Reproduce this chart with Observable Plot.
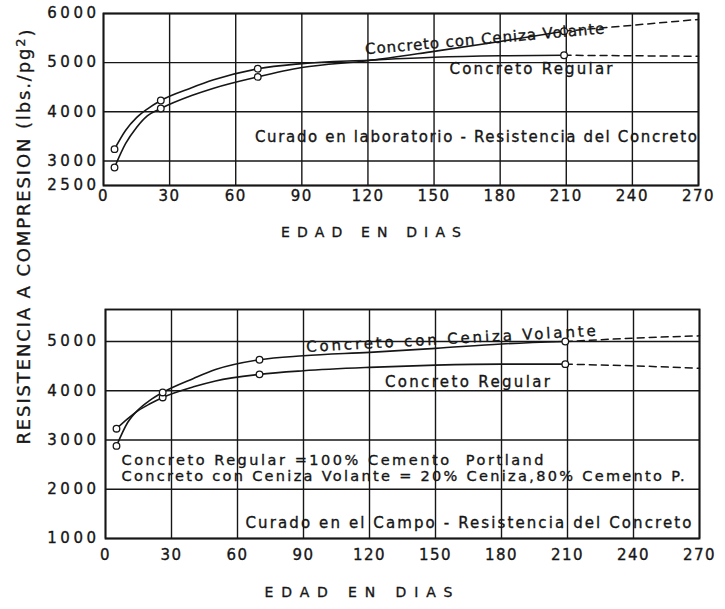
<!DOCTYPE html>
<html><head><meta charset="utf-8">
<script src="https://cdn.jsdelivr.net/npm/d3@7"></script>
<script src="https://cdn.jsdelivr.net/npm/@observablehq/plot@0.6"></script>
<style>
html,body{margin:0;padding:0;background:#fff;}
#wrap{position:relative;width:725px;height:609px;overflow:hidden;background:#fff;}
#top{position:absolute;left:0;top:0;}
#bot{position:absolute;left:0;top:250px;}
#ov{position:absolute;left:0;top:0;pointer-events:none;}
</style></head>
<body><div id="wrap"><div id="top"></div><div id="bot"></div><svg id="ov" width="725" height="609"></svg></div>
<script>
// ---------- data ----------
const xTicks = [0, 30, 60, 90, 120, 150, 180, 210, 240, 270];
const xTickLabels = ["0", "30", "60", "90", "120", "150", "180", "210", "240", "270"];
const yTicksLab = [2500, 3000, 4000, 5000, 6000];
const yTickLabelsLab = ["2500", "3000", "4000", "5000", "6000"];
const yTicksField = [1000, 2000, 3000, 4000, 5000];
const yTickLabelsField = ["1000", "2000", "3000", "4000", "5000"];

// test ages (open circles)
const testDays = [5, 26, 70, 209];
const labRegular = [3240, 4230, 4876, 5150];
const labFlyAsh = [2866, 4067, 4710, 5640];
const fieldRegular = [3230, 3864, 4333, 4540];
const fieldFlyAsh = [2880, 3966, 4630, 5000];

// points
const curveDays = [5, 10, 15, 20, 26, 40, 50, 70, 90, 120, 150, 180, 209];
const labRegularCurve = [3240, 3620, 3880, 4060, 4230, 4490, 4650, 4876, 4980, 5050, 5110, 5140, 5150];
const labFlyAshCurve = [2866, 3350, 3680, 3920, 4067, 4330, 4480, 4710, 4900, 5040, 5230, 5430, 5640];
const fieldRegularCurve = [3230, 3430, 3600, 3730, 3864, 4080, 4200, 4333, 4407, 4475, 4520, 4540, 4540];
const fieldFlyAshCurve = [2880, 3350, 3620, 3800, 3966, 4250, 4430, 4630, 4711, 4780, 4860, 4950, 5000];

// dashed extrapolations
const extDays = [209, 240, 270];
const labRegularExt = [5150, 5140, 5130];
const labFlyAshExt = [5640, 5760, 5880];
const fieldRegularExt = [4540, 4508, 4455];
const fieldFlyAshExt = [5000, 5070, 5116];

// annotations (text, day, value, rotation)
const labNotes = ["Concreto con Ceniza Volante", "Concreto Regular", "Curado en laboratorio - Resistencia del Concreto"];
const labNoteX = [173, 194, 169];
const labNoteY = [5480, 4870, 3477];
const labNoteRot = [-5, 0, 0];
const fieldNotes = ["Concreto con Ceniza Volante", "Concreto Regular", "Concreto Regular =100% Cemento  Portland", "Concreto con Ceniza Volante = 20% Ceniza,80% Cemento P.", "Curado en el Campo - Resistencia del Concreto"];
const fieldNoteX = [157, 164.5, 7.3, 7.3, 165];
const fieldNoteY = [5051, 4177, 2591, 2266, 1311];
const fieldNoteRot = [-3.2, 0, 0, 0, 0];
const fieldNoteAnchor = ["middle", "middle", "start", "start", "middle"];

const xTitle = "EDAD EN DIAS";
const yTitleMain = "RESISTENCIA  A  COMPRESION  (lbs./pg";
const yTitleSup = "2";
const yTitleEnd = ")";

// ---------- helpers ----------
const ink = "#161616";
const FONT = "'DejaVu Sans', sans-serif";
const rows = (days, vals, series) => days.map((d, i) => ({day: d, val: vals[i], series}));
const notes = (t, x, y, r, a) => t.map((s, i) => ({text: s, x: x[i], y: y[i], rot: r[i], anchor: a ? a[i] : "middle"}));

function finish(svg, widths) {
  const s = d3.select(svg);
  s.selectAll('g[aria-label="y-axis tick label"] text').style("letter-spacing", "3.5px");
  s.selectAll('g[aria-label="x-axis tick label"] text').style("letter-spacing", "1.5px");
  s.selectAll("text").each(function () {
    const t = this.textContent;
    if (widths[t]) { this.setAttribute("textLength", widths[t]); this.setAttribute("lengthAdjust", "spacing"); }
  });
  s.selectAll("text").attr("stroke", ink).attr("stroke-width", 0.35).attr("paint-order", "fill");
  return svg;
}

const labCurves = [...rows(curveDays, labRegularCurve, "reg"), ...rows(curveDays, labFlyAshCurve, "fa")];
const labExts = [...rows(extDays, labRegularExt, "reg"), ...rows(extDays, labFlyAshExt, "fa")];
const labObs = [...rows(testDays, labRegular, "reg"), ...rows(testDays, labFlyAsh, "fa")];
const fieldCurves = [...rows(curveDays, fieldRegularCurve, "reg"), ...rows(curveDays, fieldFlyAshCurve, "fa")];
const fieldExts = [...rows(extDays, fieldRegularExt, "reg"), ...rows(extDays, fieldFlyAshExt, "fa")];
const fieldObs = [...rows(testDays, fieldRegular, "reg"), ...rows(testDays, fieldFlyAsh, "fa")];

function chart(opts) {
  const {ann} = opts;
  const mid = ann.filter(d => d.anchor === "middle");
  const start = ann.filter(d => d.anchor === "start");
  const p = Plot.plot({
    width: 725, height: opts.height,
    marginTop: opts.mt, marginBottom: opts.mb, marginLeft: opts.ml, marginRight: opts.mr,
    x: {domain: [0, 270]},
    y: {domain: opts.yDomain},
    style: {fontFamily: FONT, fontSize: "15px", color: ink, background: "white"},
    marks: [
      Plot.gridX(xTicks, {stroke: ink, strokeOpacity: 1, strokeWidth: 1.4}),
      Plot.gridY(opts.yTicks, {stroke: ink, strokeOpacity: 1, strokeWidth: 1.4}),
      Plot.frame({stroke: ink, strokeWidth: 1.9}),
      Plot.axisX(xTicks, {tickSize: 0, tickPadding: opts.xpad, fontSize: 15, tickFormat: d => xTickLabels[xTicks.indexOf(d)]}),
      Plot.axisY(opts.yTicks, {tickSize: 0, tickPadding: opts.ypad, fontSize: 15, tickFormat: d => opts.yLabels[opts.yTicks.indexOf(d)]}),
      Plot.text([xTitle], {text: d => d, frameAnchor: "bottom", dx: opts.titleDx, dy: opts.titleDy, fontSize: 14, fill: ink}),
      Plot.line(opts.curves, {x: "day", y: "val", z: "series", curve: "monotone-x", stroke: ink, strokeWidth: 1.6}),
      Plot.line(opts.exts, {x: "day", y: "val", z: "series", stroke: ink, strokeWidth: 1.5, strokeDasharray: "7,5"}),
      Plot.dot(opts.obs, {x: "day", y: "val", r: 3.3, fill: "white", stroke: ink, strokeWidth: 1.3}),
      Plot.text(mid, {x: "x", y: "y", text: "text", rotate: "rot", textAnchor: "middle", fontSize: 15, fill: ink}),
      Plot.text(start, {x: "x", y: "y", text: "text", rotate: "rot", textAnchor: "start", fontSize: 14.5, fill: ink})
    ]
  });
  return finish(p, opts.widths);
}

const topSvg = chart({
  height: 250, mt: 13, mb: 65, ml: 103, mr: 27,
  yDomain: [2500, 6000], yTicks: yTicksLab, yLabels: yTickLabelsLab,
  curves: labCurves, exts: labExts, obs: labObs,
  ann: notes(labNotes, labNoteX, labNoteY, labNoteRot),
  ypad: 4, xpad: 5, titleDx: -30, titleDy: 51,
  widths: {"Concreto con Ceniza Volante": 240, "Concreto Regular": 163,
           "Curado en laboratorio - Resistencia del Concreto": 442, [xTitle]: 180}
});
document.getElementById("top").appendChild(topSvg);

const botSvg = chart({
  height: 359, mt: 59, mb: 71, ml: 105, mr: 26,
  yDomain: [1000, 5650], yTicks: yTicksField, yLabels: yTickLabelsField,
  curves: fieldCurves, exts: fieldExts, obs: fieldObs,
  ann: notes(fieldNotes, fieldNoteX, fieldNoteY, fieldNoteRot, fieldNoteAnchor),
  ypad: 6, xpad: 11, titleDx: -44, titleDy: 58,
  widths: {"Concreto con Ceniza Volante": 290, "Concreto Regular": 165,
           "Concreto Regular =100% Cemento  Portland": 422,
           "Concreto con Ceniza Volante = 20% Ceniza,80% Cemento P.": 563,
           "Curado en el Campo - Resistencia del Concreto": 446, [xTitle]: 188}
});
document.getElementById("bot").appendChild(botSvg);

// shared vertical axis title
const ov = d3.select("#ov");
const t = ov.append("text")
  .attr("transform", "translate(24,237) rotate(-90)")
  .attr("text-anchor", "middle").attr("dy", "0.36em")
  .attr("font-family", FONT).attr("font-size", 18).attr("fill", ink)
  .attr("stroke", ink).attr("stroke-width", 0.3)
  .attr("textLength", 415).attr("lengthAdjust", "spacing");
t.append("tspan").text(yTitleMain);
t.append("tspan").attr("dy", "-0.45em").attr("font-size", 13).text(yTitleSup);
t.append("tspan").attr("dy", "0.45em").text(yTitleEnd);
</script>
</body></html>
